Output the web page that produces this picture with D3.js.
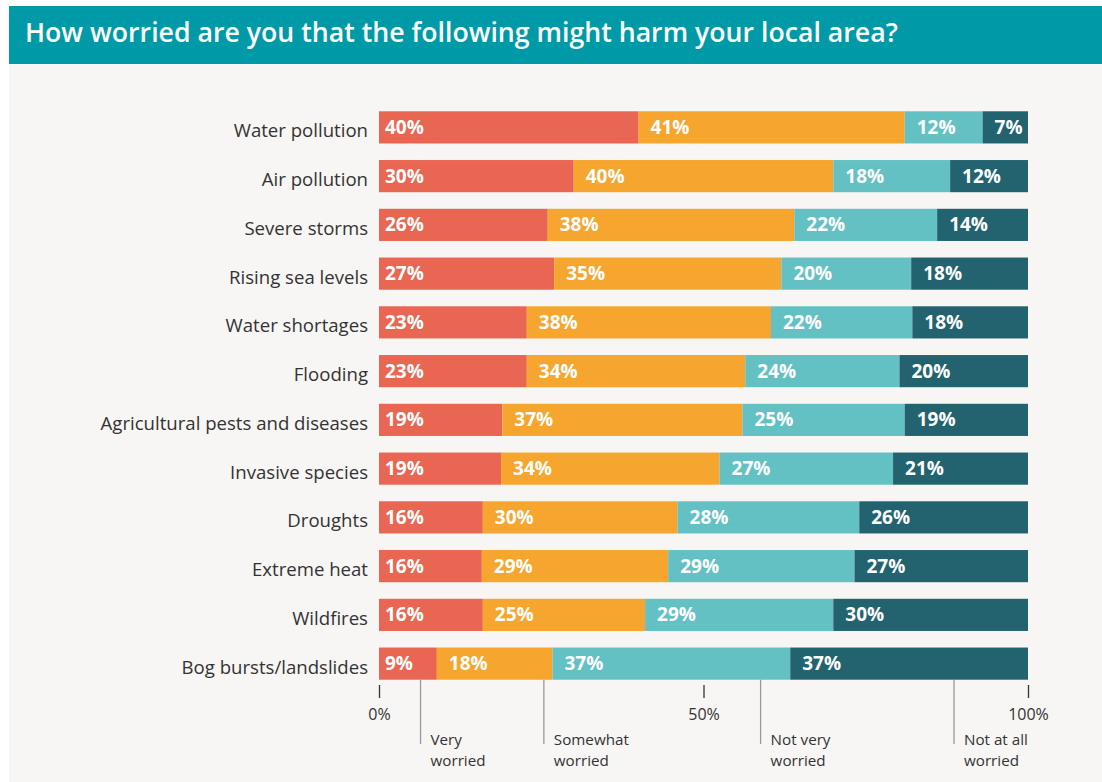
<!DOCTYPE html>
<html><head><meta charset="utf-8">
<script src="https://cdn.jsdelivr.net/npm/d3@7"></script>
<style>
html,body{margin:0;padding:0;background:#fff;}
svg{display:block;font-family:"Open Sans",sans-serif;}
</style></head>
<body>
<svg id="chart" width="1102" height="782"></svg>
<script>
const title = "How worried are you that the following might harm your local area?";
const categories = ["Water pollution","Air pollution","Severe storms","Rising sea levels","Water shortages","Flooding","Agricultural pests and diseases","Invasive species","Droughts","Extreme heat","Wildfires","Bog bursts/landslides"];
const veryWorried     = [40,30,26,27,23,23,19,19,16,16,16,9];
const somewhatWorried = [41,40,38,35,38,34,37,34,30,29,25,18];
const notVeryWorried  = [12,18,22,20,22,24,25,27,28,29,29,37];
const notAtAllWorried = [7,12,14,18,18,20,19,21,26,27,30,37];
const seriesNames = ["Very worried","Somewhat worried","Not very worried","Not at all worried"];
const seriesColors = ["#e86652","#f6a52e","#63c1c3","#22636f"];
const tickValues = [0,0.5,1];
const tickLabels = ["0%","50%","100%"];
const legendAnchors = [0.064,0.254,0.588,0.886];

const svg = d3.select("#chart");
svg.append("rect").attr("x",9).attr("y",6).attr("width",1093).attr("height",776).attr("fill","#f7f6f4");
svg.append("rect").attr("x",9).attr("y",6).attr("width",1093).attr("height",58).attr("fill","#0099a7");
svg.append("text").attr("x",25).attr("y",42).attr("fill","#fff")
  .attr("font-size",26.7).attr("font-weight",600).text(title);

const x = d3.scaleLinear().domain([0,1]).range([379,1028]);
const y = d3.scaleBand().domain(categories).range([103,688]).paddingInner(0.34).paddingOuter(0.17);

const raw = [veryWorried,somewhatWorried,notVeryWorried,notAtAllWorried];
const stackData = categories.map((c,i)=>({cat:c, s0:raw[0][i], s1:raw[1][i], s2:raw[2][i], s3:raw[3][i]}));
const keys = ["s0","s1","s2","s3"];
const stack = d3.stack().keys(keys).offset(d3.stackOffsetExpand)(stackData);

const g = svg.append("g");
stack.forEach((layer,k)=>{
  const lg = g.append("g");
  lg.selectAll("rect").data(layer).join("rect")
    .attr("x",d=>x(d[0])).attr("width",d=>x(d[1])-x(d[0]))
    .attr("y",d=>y(d.data.cat)).attr("height",y.bandwidth())
    .attr("fill",seriesColors[k]);
  lg.selectAll("text").data(layer).join("text")
    .attr("x",d=>x(d[0])+(k===0?6:12))
    .attr("y",d=>y(d.data.cat)+y.bandwidth()/2+6.5)
    .attr("fill","#fff").attr("font-weight",700).attr("font-size",19)
    .text(d=>d.data[keys[k]]+"%");
});

svg.append("g").selectAll("text").data(categories).join("text")
  .attr("x",368).attr("y",d=>y(d)+y.bandwidth()/2+10)
  .attr("text-anchor","end").attr("fill","#333").attr("font-size",18.6)
  .text(d=>d);

const axis = d3.axisBottom(x).tickValues(tickValues).tickSize(13).tickFormat((d,i)=>tickLabels[i]);
const ag = svg.append("g").attr("transform","translate(0,685)").call(axis);
ag.select(".domain").remove();
ag.selectAll(".tick line").attr("stroke","#333").attr("stroke-width",1.3);
ag.selectAll(".tick text").attr("y",30).attr("dy","0.32em").attr("fill","#333").attr("font-size",16).attr("font-family","Open Sans, sans-serif");

const lastY = y(categories[categories.length-1])+y.bandwidth();
const leg = svg.append("g");
seriesNames.forEach((name,i)=>{
  const lx = x(legendAnchors[i]);
  leg.append("line").attr("x1",lx).attr("x2",lx).attr("y1",lastY).attr("y2",744)
    .attr("stroke","#999").attr("stroke-width",1.3);
  const words = name.split(" ");
  const l1 = words.slice(0,words.length-1).join(" ");
  const l2 = words[words.length-1];
  leg.append("text").attr("x",lx+10).attr("y",745).attr("fill","#333").attr("font-size",15.2).text(l1);
  leg.append("text").attr("x",lx+10).attr("y",765.5).attr("fill","#333").attr("font-size",15.2).text(l2);
});
</script>
</body></html>
